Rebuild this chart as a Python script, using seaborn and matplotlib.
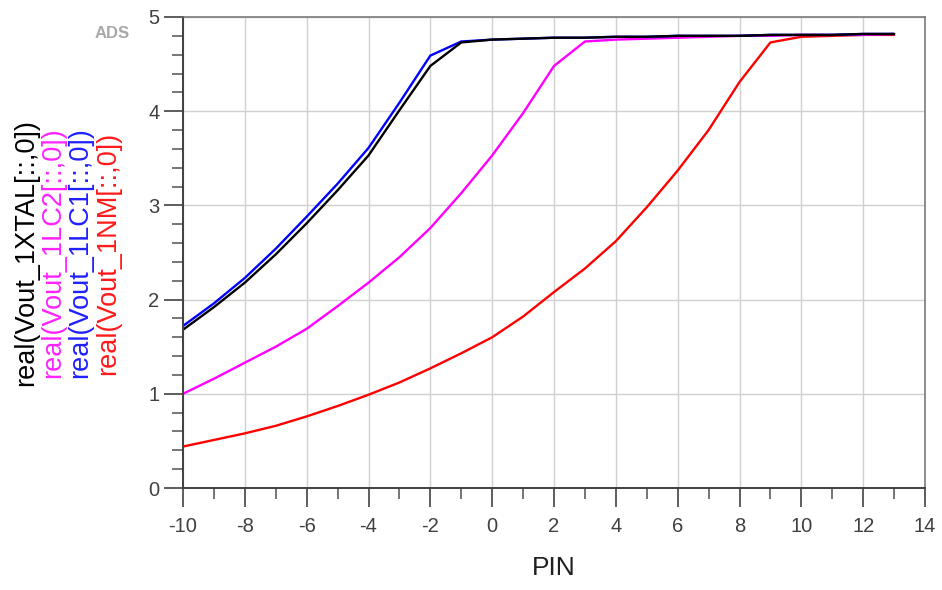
import numpy as np
import pandas as pd
import matplotlib
matplotlib.use("Agg")
import matplotlib.pyplot as plt
import seaborn as sns
from matplotlib.ticker import MultipleLocator

# ---- data ----
pin = [-10, -9, -8, -7, -6, -5, -4, -3, -2, -1, 0, 1, 2, 3, 4, 5, 6, 7, 8, 9, 10, 11, 12, 13]
vout_1nm = [0.44, 0.51, 0.58, 0.66, 0.76, 0.87, 0.99, 1.12, 1.27, 1.43, 1.60, 1.82,
            2.08, 2.33, 2.62, 2.98, 3.37, 3.80, 4.31, 4.73, 4.79, 4.80, 4.81, 4.81]
vout_1lc2 = [1.00, 1.16, 1.33, 1.50, 1.69, 1.93, 2.18, 2.45, 2.76, 3.13, 3.53, 3.98,
             4.48, 4.74, 4.76, 4.77, 4.78, 4.79, 4.80, 4.80, 4.81, 4.81, 4.81, 4.82]
vout_1lc1 = [1.72, 1.96, 2.23, 2.54, 2.88, 3.23, 3.61, 4.09, 4.59, 4.74, 4.76, 4.77,
             4.78, 4.78, 4.79, 4.79, 4.80, 4.80, 4.80, 4.81, 4.81, 4.81, 4.82, 4.82]
vout_1xtal = [1.68, 1.92, 2.18, 2.48, 2.81, 3.16, 3.53, 4.01, 4.48, 4.73, 4.76, 4.77,
              4.78, 4.78, 4.79, 4.79, 4.80, 4.80, 4.80, 4.81, 4.81, 4.81, 4.82, 4.82]

series_names = ["real(Vout_1NM[::,0])", "real(Vout_1LC2[::,0])",
                "real(Vout_1LC1[::,0])", "real(Vout_1XTAL[::,0])"]
series_values = [vout_1nm, vout_1lc2, vout_1lc1, vout_1xtal]
series_colors = ["#ff0000", "#ff00ff", "#0000ff", "#000000"]

xticks = [-10, -8, -6, -4, -2, 0, 2, 4, 6, 8, 10, 12, 14]
yticks = [0, 1, 2, 3, 4, 5]

df = pd.concat([pd.DataFrame({"PIN": pin, "value": v, "series": n})
                for n, v in zip(series_names, series_values)], ignore_index=True)

sns.set_theme(style="white")
plt.rcParams["font.family"] = ["Liberation Sans", "DejaVu Sans"]
plt.rcParams["axes.unicode_minus"] = False

fig = plt.figure(figsize=(9.42, 5.90), dpi=100)
ax = fig.add_axes([183 / 942, 1 - 488 / 590, (925 - 183) / 942, (488 - 17) / 590])

sns.lineplot(data=df, x="PIN", y="value", hue="series", hue_order=series_names,
             palette=dict(zip(series_names, series_colors)), linewidth=1.7,
             legend=False, ax=ax, sort=False)

ax.set_xlim(-10, 14)
ax.set_ylim(0, 5)
ax.set_xticks(xticks)
ax.set_yticks(yticks)
ax.xaxis.set_minor_locator(MultipleLocator(1))
ax.yaxis.set_minor_locator(MultipleLocator(0.2))
ax.grid(True, which="major", color="#d0d0d0", linewidth=1.0)
ax.set_axisbelow(True)

tick_color = "#404040"
ax.tick_params(axis="both", which="major", direction="out", length=14, width=1.3,
               color="#505050", labelsize=14.5, labelcolor=tick_color,
               bottom=True, left=True)
ax.tick_params(axis="x", which="major", pad=7)
ax.tick_params(axis="y", which="major", pad=3)
ax.tick_params(axis="both", which="minor", direction="out", length=8, width=1.1,
               color="#505050", bottom=True, left=True)

for side in ["left", "bottom"]:
    ax.spines[side].set_color("#404040")
    ax.spines[side].set_linewidth(1.4)
for side in ["top", "right"]:
    ax.spines[side].set_color("#707070")
    ax.spines[side].set_linewidth(1.1)
    ax.spines[side].set_visible(True)

ax.set_xlabel("PIN", fontsize=19, color="#202020", labelpad=14)
ax.set_ylabel("")

# stacked, coloured y-axis labels (rotated)
label_order = ["real(Vout_1XTAL[::,0])", "real(Vout_1LC2[::,0])",
               "real(Vout_1LC1[::,0])", "real(Vout_1NM[::,0])"]
label_colors = ["#000000", "#ff22ff", "#2020ff", "#ff1a1a"]
label_x_px = [26, 53, 80, 108]
for txt, col, xp in zip(label_order, label_colors, label_x_px):
    fig.text(xp / 942, 1 - 253 / 590, txt, rotation=90, ha="center", va="center",
             fontsize=19.5, color=col)

fig.text(112 / 942, 1 - 33 / 590, "ADS", ha="center", va="center",
         fontsize=12, color="#a8a8a8", fontweight="bold")

fig.savefig("out.png", dpi=100)
